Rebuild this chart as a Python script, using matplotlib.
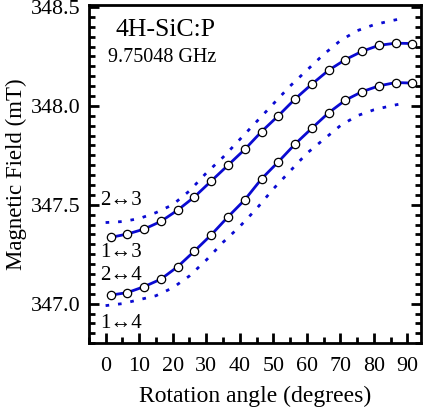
import numpy as np
import matplotlib
matplotlib.use("Agg")
import matplotlib.pyplot as plt
from matplotlib.ticker import MultipleLocator

plt.rcParams['font.family'] = ['Liberation Serif', 'DejaVu Sans']

# measured points (angle in degrees, field in mT)
angle = [1.5, 6.5, 11.5, 16.5, 21.5, 26.5, 31.5, 36.5, 41.5, 46.5,
         51.5, 56.5, 61.5, 66.5, 71.5, 76.5, 81.5, 86.5, 91.5]
b_13 = [347.335, 347.352, 347.377, 347.416, 347.473, 347.540, 347.620, 347.700,
        347.780, 347.870, 347.950, 348.035, 348.110, 348.180, 348.234, 348.276,
        348.306, 348.317, 348.315]
b_24 = [347.043, 347.056, 347.086, 347.124, 347.187, 347.266, 347.348, 347.439,
        347.525, 347.631, 347.717, 347.807, 347.887, 347.965, 348.029, 348.072,
        348.101, 348.118, 348.115]

# forbidden transitions (dotted)
angle_f = [0, 5, 10, 15, 20, 25, 30, 35, 40, 45, 50, 55, 60, 65, 70, 75, 80, 85, 88]
b_23 = [347.41, 347.415, 347.43, 347.46, 347.50, 347.57, 347.66, 347.74, 347.83,
        347.92, 348.01, 348.10, 348.18, 348.26, 348.33, 348.38, 348.41, 348.43, 348.44]
b_14 = [346.99, 347.00, 347.02, 347.04, 347.08, 347.14, 347.22, 347.31, 347.39,
        347.48, 347.58, 347.67, 347.76, 347.83, 347.90, 347.95, 347.98, 348.00, 348.01]

blue = '#0a0ad2'

fig = plt.figure(figsize=(4.23, 4.15), dpi=100)
ax = fig.add_axes([0.210, 0.173, 0.785, 0.815])

ax.plot(angle_f, b_23, color=blue, lw=2.0, linestyle=(0, (1.3, 3.2)))
ax.plot(angle_f, b_14, color=blue, lw=2.0, linestyle=(0, (1.3, 3.2)))
for b in (b_13, b_24):
    ax.plot(angle, b, color=blue, lw=2.0, marker='o', ms=6.0,
            mfc='white', mec='black', mew=0.9)

for lab, y in [('2\u21943', 347.52), ('1\u21943', 347.26),
               ('2\u21944', 347.14), ('1\u21944', 346.90)]:
    ax.text(-1.6, y, lab, fontsize=15, va='center')

ax.text(0.232, 0.926, '4H-SiC:P', transform=ax.transAxes, fontsize=18.5,
        ha='center', va='center')
ax.text(0.22, 0.846, '9.75048 GHz', transform=ax.transAxes, fontsize=14.5,
        ha='center', va='center')

ax.set_xlim(-5, 94)
ax.set_ylim(346.8, 348.51)
ax.set_xticks(range(0, 91, 10))
ax.xaxis.set_minor_locator(MultipleLocator(5))
ax.set_yticks([347.0, 347.5, 348.0, 348.5])
ax.yaxis.set_minor_locator(MultipleLocator(0.05))
ax.tick_params(which='both', direction='in', left=True, right=True,
               top=False, labelsize=15.8, width=2)
ax.tick_params(which='major', length=7, pad=6)
ax.tick_params(which='minor', length=4)
ax.tick_params(axis='x', pad=10)
for s in ax.spines.values():
    s.set_linewidth(2)

ax.set_xlabel('Rotation angle (degrees)', fontsize=17, labelpad=7)
ax.set_ylabel('Magnetic Field (mT)', fontsize=16.5, labelpad=3)

fig.savefig('out.png', dpi=100)
